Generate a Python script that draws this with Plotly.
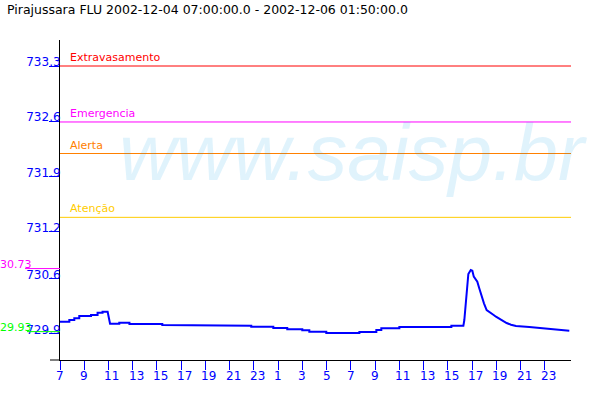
import plotly.graph_objects as go

title_text = "Pirajussara FLU 2002-12-04 07:00:00.0 - 2002-12-06 01:50:00.0"

# hours since 2002-12-04 07:00
hours = [0.00, 0.77, 0.77, 1.18, 1.18, 1.59, 1.59, 2.56, 2.56, 3.10, 3.10, 3.51, 3.51, 3.93,
         4.13, 4.89, 4.89, 5.73, 5.73, 8.44, 8.44, 9.84, 9.84, 15.78, 15.78, 17.60, 17.60,
         18.75, 18.75, 19.99, 19.99, 20.57, 20.57, 21.97, 21.97, 24.70, 24.70, 26.10, 26.10,
         26.51, 26.51, 28.00, 28.00, 32.29, 32.29, 33.28, 33.36, 33.44, 33.52, 33.60, 33.69,
         33.89, 34.02, 34.14, 34.43, 34.59, 34.76, 34.98, 35.20, 35.56, 35.78, 35.97, 36.25,
         36.52, 36.85, 37.21, 37.62, 38.72, 39.96, 40.93, 42.02]
levels = [730.056, 730.056, 730.077, 730.077, 730.099, 730.099, 730.128, 730.128, 730.141,
          730.141, 730.170, 730.170, 730.183, 730.183,
          730.030, 730.030, 730.043, 730.043, 730.027, 730.027, 730.014, 730.014, 730.005,
          730.005, 729.992, 729.992, 729.976,
          729.976, 729.960, 729.960, 729.947, 729.947, 729.929, 729.929, 729.913, 729.913,
          729.925, 729.925, 729.951,
          729.951, 729.972, 729.972, 729.989, 729.989, 730.005, 730.005, 730.077, 730.226,
          730.416, 730.530, 730.661,
          730.712, 730.703, 730.627, 730.563, 730.480, 730.382, 730.289, 730.204, 730.170,
          730.141, 730.119, 730.090,
          730.065, 730.039, 730.018, 730.001, 729.989, 729.972, 729.960, 729.942]
assert len(hours) == len(levels)

x_tick_hours = [0, 2, 4, 6, 8, 10, 12, 14, 16, 18, 20, 22, 24, 26, 28, 30, 32, 34, 36, 38, 40]
x_tick_labels = ["7", "9", "11", "13", "15", "17", "19", "21", "23", "1", "3", "5", "7",
                 "9", "11", "13", "15", "17", "19", "21", "23"]
x_range = [0, 42.16]

y_tick_values = [733.3, 732.6, 731.9, 731.2, 730.6, 729.9]
y_tick_labels = ["733.3", "732.6", "731.9", "731.2", "730.6", "729.9"]
y_range = [729.57, 733.63]

threshold_names = ["Extravasamento", "Emergencia", "Alerta", "Atenção"]
threshold_values = [733.30, 732.59, 732.19, 731.38]
threshold_colors = ["#ff0000", "#ff00ff", "#ff8000", "#ffcc00"]

max_level = 730.73
min_level = 729.93
max_label = "730.73"
min_label = "729.93"
watermark = "www.saisp.br"

W, H = 600, 400
L, R, T, B = 60, 29, 40, 40
PW, PH = W - L - R, H - T - B


def px(xpix):
    return (xpix - L) / PW


def py(ypix):
    return (H - B - ypix) / PH


FONT = "DejaVu Sans"
BLUE = "#0000ff"

fig = go.Figure()

# watermark (translucent so lines show through)
fig.add_annotation(xref="paper", yref="paper", x=px(117), y=py(152), xanchor="left",
                   yanchor="middle", text=watermark, showarrow=False,
                   font=dict(family="Liberation Sans", size=79, style="italic",
                             color="rgba(0,160,230,0.12)"))

fig.add_trace(go.Scatter(x=hours, y=levels, mode="lines",
                         line=dict(color=BLUE, width=2), showlegend=False,
                         hoverinfo="skip"))

for name, val, col in zip(threshold_names, threshold_values, threshold_colors):
    fig.add_shape(type="line", xref="paper", yref="y", x0=0, x1=1, y0=val, y1=val,
                  line=dict(color=col, width=1))
    fig.add_annotation(xref="paper", yref="y", x=px(68), y=val, xanchor="left",
                       yanchor="bottom", text=name, showarrow=False,
                       font=dict(family=FONT, size=11, color=col))

# max / min markers on the left
for val, lab, col, x0 in [(max_level, max_label, "#ff00ff", 25),
                          (min_level, min_label, "#00ff00", 27)]:
    fig.add_shape(type="line", xref="paper", yref="y", x0=px(x0), x1=0, y0=val, y1=val,
                  line=dict(color=col, width=1))
    fig.add_annotation(xref="paper", yref="y", x=px(34), y=val, xanchor="right",
                       yanchor="bottom", yshift=-4.5, text=lab, showarrow=False,
                       font=dict(family=FONT, size=11, color=col))

# short extension of the x axis line to the left
fig.add_shape(type="line", xref="paper", yref="paper", x0=px(50), x1=0, y0=0, y1=0,
              line=dict(color="black", width=1))

# x tick labels (left-aligned just before each tick)
for h, lab in zip(x_tick_hours, x_tick_labels):
    fig.add_annotation(xref="x", yref="paper", x=h, y=0, xanchor="left", yanchor="top",
                       xshift=-6, yshift=-7, text=lab, showarrow=False,
                       font=dict(family=FONT, size=12, color=BLUE))

# title
fig.add_annotation(xref="paper", yref="paper", x=px(5), y=py(0), xanchor="left",
                   yanchor="top", text=title_text, showarrow=False,
                   font=dict(family=FONT, size=12.5, color="black"))

fig.update_layout(
    width=W, height=H,
    margin=dict(l=L, r=R, t=T, b=B),
    paper_bgcolor="white", plot_bgcolor="white",
    showlegend=False,
    xaxis=dict(range=x_range, tickvals=x_tick_hours, ticktext=x_tick_labels,
               showticklabels=False, ticks="outside", ticklen=9, tickcolor=BLUE,
               tickwidth=1, showline=True, linecolor="black", linewidth=1,
               showgrid=False, zeroline=False),
    yaxis=dict(range=y_range, tickvals=y_tick_values, ticktext=y_tick_labels,
               ticks="outside", ticklen=10, tickcolor=BLUE, tickwidth=1,
               tickfont=dict(family=FONT, size=12, color=BLUE),
               ticklabelstandoff=-14, ticklabelshift=-4,
               showline=True, linecolor="black", linewidth=1,
               showgrid=False, zeroline=False),
)

fig.write_html("out.html", config={"displayModeBar": False},
               post_script="document.body.style.margin='0';")
